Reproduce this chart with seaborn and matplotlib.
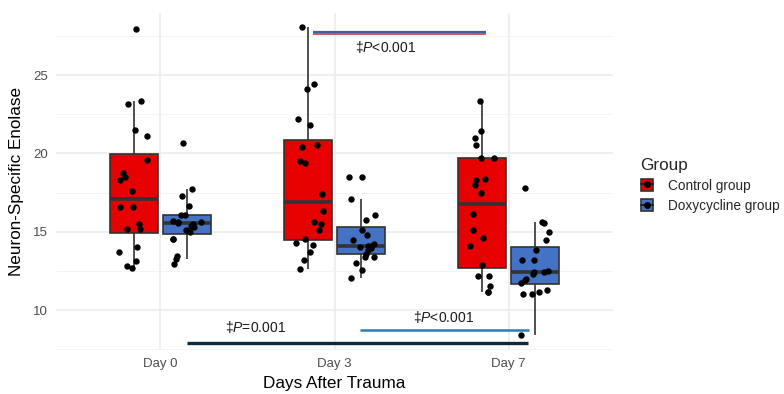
import numpy as np
import pandas as pd
import matplotlib
matplotlib.use("Agg")
import matplotlib.pyplot as plt
import matplotlib.transforms as mtransforms
from matplotlib.patches import Patch
from matplotlib.lines import Line2D
from matplotlib.legend_handler import HandlerTuple
import seaborn as sns

# ---------------- data ----------------
days = ["Day 0", "Day 3", "Day 7"]
groups = ["Control group", "Doxycycline group"]

control_day0 = [27.95, 23.35, 23.15, 21.5, 21.1, 19.6, 18.75, 18.5, 18.3, 17.6,
                16.6, 16.6, 15.5, 15.2, 15.2, 14.05, 13.7, 13.15, 12.8, 12.7]
doxy_day0 = [20.65, 17.72, 17.25, 16.66, 16.08, 16.04, 15.7, 15.65, 15.6, 15.55,
             15.5, 15.34, 15.3, 15.08, 15.0, 14.53, 14.53, 13.47, 13.26, 12.94]
control_day3 = [28.04, 24.43, 24.09, 22.18, 21.8, 20.52, 20.43, 19.52, 19.41, 17.42,
                16.32, 15.64, 15.51, 15.13, 14.54, 14.3, 14.17, 13.68, 13.22, 12.62]
doxy_day3 = [18.52, 18.52, 17.08, 16.04, 15.76, 15.13, 14.81, 14.45, 14.24, 14.06,
             14.06, 14.0, 13.93, 13.81, 13.6, 13.39, 13.39, 13.0, 12.58, 12.05]
control_day7 = [23.36, 21.41, 20.97, 20.52, 19.71, 19.71, 18.38, 18.29, 18.01, 17.5,
                16.1, 15.13, 14.6, 14.11, 12.9, 12.15, 12.15, 11.56, 11.13, 11.13]
doxy_day7 = [17.78, 15.6, 15.55, 14.98, 14.49, 13.85, 13.22, 13.17, 12.52, 12.41,
             12.4, 12.32, 11.99, 11.94, 11.75, 11.3, 11.15, 11.05, 11.0, 8.38]

y_ticks = [10, 15, 20, 25]
x_label = "Days After Trauma"
y_label = "Neuron-Specific Enolase"
legend_title = "Group"

# significance annotations
sig_labels = ["‡$\\it{P}$<0.001", "‡$\\it{P}$=0.001", "‡$\\it{P}$<0.001"]
sig_x_start = [0.877, 0.155, 1.146]
sig_x_end = [1.868, 2.109, 2.115]
sig_y = [27.67, 7.87, 8.73]
sig_text_x = [1.117, 0.372, 1.45]
sig_text_y = [26.79, 8.92, 9.58]

records = []
for day, vals in zip(days, [control_day0, control_day3, control_day7]):
    records += [(day, groups[0], v) for v in vals]
for day, vals in zip(days, [doxy_day0, doxy_day3, doxy_day7]):
    records += [(day, groups[1], v) for v in vals]
df = pd.DataFrame(records, columns=["Day", "Group", "NSE"])

# ---------------- style ----------------
sns.set_theme(style="whitegrid")
plt.rcParams["font.family"] = ["Liberation Sans", "DejaVu Sans"]
plt.rcParams["mathtext.fontset"] = "custom"
plt.rcParams["mathtext.rm"] = "Liberation Sans"
plt.rcParams["mathtext.it"] = "Liberation Sans:italic"

palette = {"Control group": "#E60000", "Doxycycline group": "#4472C4"}
edge = "#333333"

fig = plt.figure(figsize=(7.84, 3.94), dpi=100)
ax = fig.add_axes([56 / 784, 1 - 350 / 394, 557 / 784, 337 / 394])

sns.boxplot(data=df, x="Day", y="NSE", hue="Group", order=days, hue_order=groups,
            palette=palette, width=0.6, gap=0.08, linecolor=edge, linewidth=1.2,
            showfliers=False, showcaps=False,
            medianprops=dict(color=edge, linewidth=2.6),
            saturation=1, legend=False, ax=ax)

np.random.seed(3)
dodge = {groups[0]: -0.15, groups[1]: 0.15}
for g in groups:
    n_before = len(ax.collections)
    sns.stripplot(data=df[df["Group"] == g], x="Day", y="NSE", order=days,
                  color="black", jitter=0.09, size=4.6, linewidth=0, ax=ax)
    for coll in ax.collections[n_before:]:
        coll.set_offset_transform(mtransforms.Affine2D().translate(dodge[g], 0) + ax.transData)

# significance lines
ax.plot([sig_x_start[0], sig_x_end[0]], [sig_y[0] + 0.06] * 2, color="#3F5BA9", lw=1.6,
        solid_capstyle="butt", zorder=5)
ax.plot([sig_x_start[0], sig_x_end[0]], [sig_y[0] - 0.06] * 2, color="#C0394A", lw=1.2,
        solid_capstyle="butt", zorder=5)
ax.plot([sig_x_start[1], sig_x_end[1]], [sig_y[1]] * 2, color="#0E2A38", lw=2.4,
        solid_capstyle="butt", zorder=5)
ax.plot([sig_x_start[2], sig_x_end[2]], [sig_y[2]] * 2, color="#2A7DB8", lw=1.8,
        solid_capstyle="butt", zorder=5)
for lab, tx, ty in zip(sig_labels, sig_text_x, sig_text_y):
    ax.text(tx, ty, lab, fontsize=10, color="#1a1a1a", ha="left", va="center", zorder=6)

# axes
ax.set_xlim(-0.6, 2.6)
ax.set_ylim(7.45, 28.96)
ax.set_yticks(y_ticks)
ax.set_yticks([7.5, 12.5, 17.5, 22.5, 27.5], minor=True)
ax.grid(True, which="major", color="#EBEBEB", linewidth=1.1)
ax.grid(True, which="minor", axis="y", color="#F2F2F2", linewidth=0.6)
ax.set_axisbelow(True)
for s in ax.spines.values():
    s.set_visible(False)
ax.tick_params(axis="both", which="both", length=0, colors="#4D4D4D", labelsize=9.5)
ax.tick_params(axis="y", pad=6)
ax.tick_params(axis="x", pad=6)
ax.set_xlabel(x_label, fontsize=12.3, color="black", labelpad=4)
ax.set_ylabel(y_label, fontsize=12.3, color="black", labelpad=6)

# legend
handles = []
for g in groups:
    handles.append((Patch(facecolor=palette[g], edgecolor=edge, linewidth=1.2),
                    Line2D([], [], color="#222222", lw=1.5, marker="o", markersize=4,
                           markerfacecolor="black", markeredgecolor="black")))
leg = fig.legend(handles, groups, title=legend_title, loc="upper left",
                 bbox_to_anchor=(631 / 784, 1 - 148 / 394), frameon=False,
                 fontsize=9.8, title_fontsize=12.3, handlelength=0.95, handleheight=0.9,
                 handletextpad=1.05, labelspacing=0.45, borderaxespad=0.3,
                 handler_map={tuple: HandlerTuple(ndivide=1)})
leg._legend_box.align = "left"

fig.savefig("out.png", dpi=100)
